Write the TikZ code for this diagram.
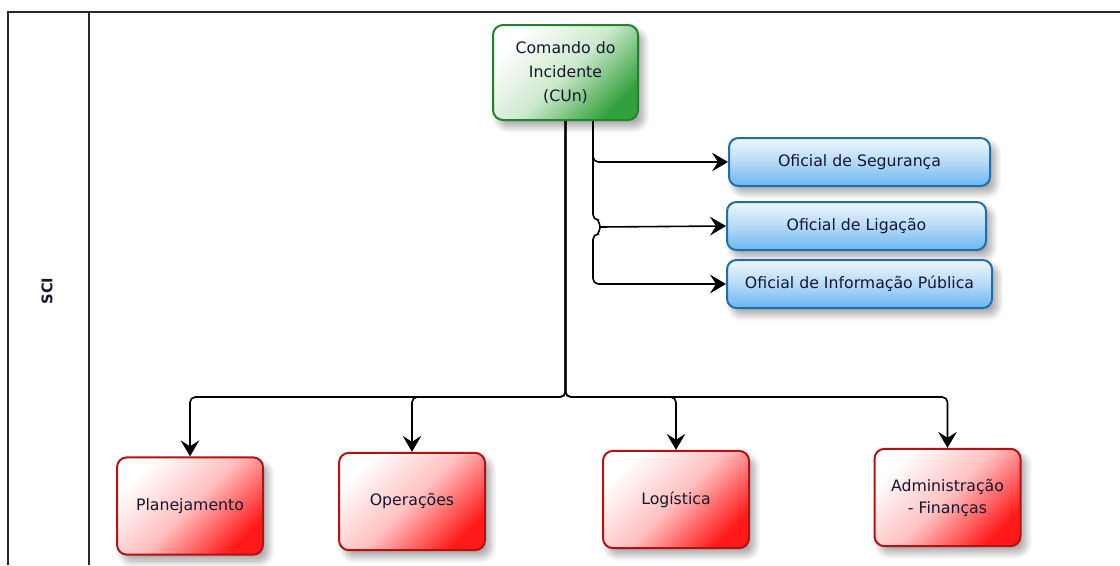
\documentclass[tikz,border=0pt]{standalone}
\usepackage{fontspec}
\setmainfont{DejaVu Sans}
\usetikzlibrary{arrows.meta,calc,shadows.blur}
\definecolor{txt}{RGB}{22,22,48}
\definecolor{gborder}{RGB}{35,130,45}
\definecolor{gdark}{RGB}{50,160,60}
\definecolor{gmid}{RGB}{205,234,205}
\definecolor{rborder}{RGB}{180,18,18}
\definecolor{rdark}{RGB}{255,25,25}
\definecolor{rmid}{RGB}{255,192,192}
\definecolor{bborder}{RGB}{30,110,170}
\definecolor{btop}{RGB}{238,247,255}
\definecolor{bbot}{RGB}{105,182,240}
\definecolor{bmid}{RGB}{182,218,246}
\definecolor{framec}{RGB}{40,40,40}
\tikzset{
  box/.style={rectangle, line width=1.5pt, text=txt, align=center,
    font=\fontsize{11.8}{18}\selectfont,
    blur shadow={shadow xshift=4pt, shadow yshift=-5pt, shadow blur steps=10, shadow blur radius=5pt, shadow opacity=35}},
  cmdbox/.style={box, draw=gborder, rounded corners=7.5pt,
    top color=white, bottom color=gdark, middle color=gmid, shading angle=45,
    minimum width=108.75pt, minimum height=71.25pt},
  offbox/.style={box, draw=bborder, rounded corners=7pt,
    top color=btop, bottom color=bbot, middle color=bmid,
    minimum height=36pt},
  secbox/.style={box, draw=rborder, rounded corners=7.5pt,
    top color=white, bottom color=rdark, middle color=rmid, shading angle=45,
    minimum width=109.5pt, minimum height=73pt,
    font=\fontsize{11.8}{16.5}\selectfont},
  conn/.style={draw=black, line width=1.2pt, rounded corners=4pt,
    -{Stealth[length=12pt,width=14pt,inset=4.5pt]}},
  framel/.style={draw=framec, line width=1.2pt}
}
\begin{document}
\begin{tikzpicture}[x=0.75pt,y=-0.75pt]
\useasboundingbox (0,0) rectangle (1120,565);
% frame
\draw[framel] (8,565) -- (8,12) -- (1120,12);
\draw[framel] (89,12) -- (89,565);
\node[rotate=90, font=\bfseries\fontsize{11}{13}\selectfont, text=txt] (lane) at (47,291) {SCI};
% nodes
\node[cmdbox] (cmd) at (565.5,72.5) {Comando do\\Incidente\\(CUn)};
\node[offbox, minimum width=195.75pt] (seg) at (859.5,162) {Oficial de Segurança};
\node[offbox, minimum width=194.25pt] (lig) at (856.5,226) {Oficial de Ligação};
\node[offbox, minimum width=198.75pt] (pub) at (859.5,284) {Oficial de Informação Pública};
\node[secbox] (pln) at (190,506) {Planejamento};
\node[secbox] (ops) at (412,501.5) {Operações};
\node[secbox] (log) at (676,499.5) {Logística};
\node[secbox] (adm) at (947.5,497.5) {Administração\\- Finanças};
% coordinates
\coordinate (bus) at (0,397);
\coordinate (cB) at ($(cmd.south)+(27.5,0)$);
\coordinate (hop) at ($(cB)+(7,106)$);
% lower connectors
\draw[conn] (cmd.south) -- (cmd.south |- bus) -| (pln.north);
\draw[conn] (cmd.south) -- (cmd.south |- bus) -| (ops.north);
\draw[conn] (cmd.south) -- (cmd.south |- bus) -| (log.north);
\draw[conn] (cmd.south) -- (cmd.south |- bus) -| (adm.north);
% officer connectors
\draw[conn] (cB) |- (seg.west);
\draw[conn] (hop) -- (lig.west);
\draw[conn] (cB) -- ++(0,99) arc[start angle=-90, end angle=90, radius=7] |- (pub.west);
\end{tikzpicture}
\end{document}
